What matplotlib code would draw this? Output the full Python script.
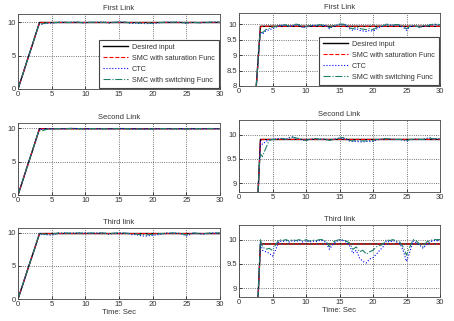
import matplotlib
matplotlib.use("Agg")
import matplotlib.pyplot as plt

plt.rcParams["font.family"] = ["Liberation Sans", "DejaVu Sans"]

# time grid for the response curves
t = [0, 3.0, 3.2, 3.5, 4.0, 4.5, 5.0, 5.5, 6.0, 6.5, 7.0, 7.5, 8.0, 8.5, 9.0, 9.5,
     10.0, 10.5, 11.0, 11.5, 12.0, 12.5, 13.0, 13.5, 14.0, 14.5, 15.0, 15.5, 16.0,
     16.5, 17.0, 17.5, 18.0, 18.5, 19.0, 19.5, 20.0, 20.5, 21.0, 21.5, 22.0, 22.5,
     23.0, 23.5, 24.0, 24.5, 25.0, 25.5, 26.0, 26.5, 27.0, 27.5, 28.0, 28.5, 29.0,
     29.5, 30.0]

t_ref = [0, 3.2, 30]
t_sat = [0, 3.2, 3.5, 30]

titles = ["First Link", "Second Link", "Third link"]
labels = ["Desired input", "SMC with saturation Func", "CTC", "SMC with switching Func"]

# first link
des1 = [0, 9.93, 9.93]
sat1 = [0, 9.9, 9.93, 9.93]
ctc1 = [0, 9.3, 9.75, 9.68, 9.78, 9.82, 9.85, 9.9, 9.95, 9.96, 9.97, 9.92, 9.95, 9.98,
        9.96, 9.88, 9.9, 9.94, 9.95, 9.95, 9.97, 9.96, 9.95, 9.85, 9.93, 9.96, 9.99,
        9.99, 9.97, 9.85, 9.8, 9.86, 9.8, 9.78, 9.76, 9.8, 9.77, 9.84, 9.9, 9.93, 9.99,
        9.97, 9.96, 9.98, 9.96, 9.9, 9.8, 9.92, 9.94, 9.92, 9.88, 9.95, 9.93, 9.97,
        9.99, 9.99, 9.97]
sw1 = [0, 9.3, 9.8, 9.72, 9.82, 9.86, 9.9, 9.92, 9.96, 9.97, 9.98, 9.93, 9.96, 10.0,
       9.98, 9.9, 9.92, 9.95, 9.96, 9.96, 9.98, 9.97, 9.96, 9.88, 9.95, 9.97, 10.0,
       10.0, 9.98, 9.88, 9.85, 9.9, 9.86, 9.84, 9.82, 9.86, 9.82, 9.88, 9.93, 9.94,
       10.0, 9.98, 9.97, 9.99, 9.97, 9.92, 9.85, 9.93, 9.95, 9.93, 9.9, 9.96, 9.94,
       9.98, 10.0, 10.0, 9.98]

# second link
des2 = [0, 9.9, 9.9]
sat2 = [0, 9.88, 9.9, 9.9]
ctc2 = [0, 9.3, 9.85, 9.8, 9.86, 9.89, 9.9, 9.91, 9.92, 9.92, 9.9, 9.94, 9.95, 9.93,
        9.91, 9.89, 9.88, 9.9, 9.91, 9.92, 9.9, 9.91, 9.9, 9.88, 9.9, 9.91, 9.93, 9.92,
        9.9, 9.87, 9.86, 9.86, 9.85, 9.85, 9.86, 9.86, 9.86, 9.89, 9.9, 9.91, 9.92,
        9.91, 9.9, 9.9, 9.9, 9.89, 9.86, 9.9, 9.9, 9.91, 9.9, 9.9, 9.92, 9.93, 9.91,
        9.92, 9.91]
sw2 = [0, 9.3, 9.6, 9.55, 9.72, 9.88, 9.9, 9.9, 9.91, 9.92, 9.9, 9.93, 9.95, 9.93,
       9.92, 9.89, 9.88, 9.9, 9.91, 9.92, 9.9, 9.91, 9.9, 9.88, 9.9, 9.91, 9.93, 9.94,
       9.92, 9.88, 9.87, 9.88, 9.87, 9.87, 9.87, 9.88, 9.87, 9.9, 9.9, 9.91, 9.92,
       9.91, 9.9, 9.9, 9.9, 9.89, 9.87, 9.9, 9.9, 9.91, 9.9, 9.9, 9.92, 9.93, 9.91,
       9.92, 9.91]

# third link
des3 = [0, 9.91, 9.91]
sat3 = [0, 9.9, 9.91, 9.91]
ctc3 = [0, 9.3, 9.95, 9.78, 9.75, 9.72, 9.66, 9.8, 9.97, 9.96, 9.98, 9.95, 9.98, 9.96,
        9.99, 9.95, 9.98, 9.95, 9.97, 9.96, 9.98, 9.98, 9.94, 9.8, 9.9, 9.96, 9.99,
        9.98, 9.95, 9.88, 9.72, 9.78, 9.62, 9.55, 9.52, 9.6, 9.63, 9.7, 9.78, 9.85,
        9.97, 9.95, 9.98, 9.95, 9.92, 9.78, 9.55, 9.75, 9.97, 9.93, 9.88, 9.82, 9.9,
        9.95, 9.98, 9.98, 9.97]
sw3 = [0, 9.3, 10.0, 9.85, 9.8, 9.82, 9.78, 9.9, 10.0, 9.98, 10.0, 9.97, 10.0, 9.98,
       10.0, 9.97, 10.0, 9.97, 9.99, 9.98, 10.0, 10.0, 9.96, 9.85, 9.95, 9.98, 10.0,
       10.0, 9.97, 9.93, 9.8, 9.85, 9.75, 9.78, 9.7, 9.75, 9.78, 9.85, 9.88, 9.9, 10.0,
       9.98, 10.0, 9.97, 9.95, 9.85, 9.68, 9.85, 10.0, 9.97, 9.9, 9.85, 9.95, 9.98,
       10.0, 10.0, 10.0]

rows = [(des1, sat1, ctc1, sw1), (des2, sat2, ctc2, sw2), (des3, sat3, ctc3, sw3)]

left_ylim = [(0, 11.2), (0, 10.75), (0, 10.75)]
right_ylim = [(8, 10.36), (8.82, 10.3), (8.82, 10.3)]
right_yticks = [[8, 8.5, 9, 9.5, 10], [9, 9.5, 10], [9, 9.5, 10]]

W, H = 454, 321
fig = plt.figure(figsize=(W / 100, H / 100), dpi=100)

# axes boxes in pixels: (left, top, right, bottom)
left_boxes = [(18, 14, 220, 89), (18, 123, 220, 195), (18, 228, 220, 299)]
right_boxes = [(239, 13, 440, 86), (239, 120, 440, 192), (239, 225, 440, 297)]

fs = 5.5
txt = "#333333"


def make_ax(box):
    l, tp, r, b = box
    return fig.add_axes([l / W, 1 - b / H, (r - l) / W, (b - tp) / H])


def style(ax):
    ax.set_xlim(0, 30)
    ax.set_xticks([0, 5, 10, 15, 20, 25, 30])
    ax.tick_params(direction="in", length=2, width=0.5, labelsize=fs, pad=1.5,
                   labelcolor=txt)
    ax.grid(True, color="#444444", linestyle=":", linewidth=0.6)
    for s in ax.spines.values():
        s.set_linewidth(0.6)
        s.set_color("#444444")


for i in range(3):
    des, sat, ctc, sw = rows[i]
    for box, yl, col in [(left_boxes[i], left_ylim[i], 0), (right_boxes[i], right_ylim[i], 1)]:
        ax = make_ax(box)
        ax.plot(t_ref, des, color="k", linestyle="-", linewidth=1.0, label=labels[0])
        ax.plot(t_sat, sat, color="r", linestyle="--", linewidth=0.8, label=labels[1])
        ax.plot(t, ctc, color="b", linestyle=":", linewidth=0.8, label=labels[2])
        ax.plot(t, sw, color="#1f806a", linestyle="-.", linewidth=0.8, label=labels[3])
        style(ax)
        ax.set_ylim(*yl)
        if col == 0:
            ax.set_yticks([0, 5, 10])
        else:
            ax.set_yticks(right_yticks[i])
            ax.set_yticklabels([f"{v:g}" for v in right_yticks[i]])
        ax.set_title(titles[i], fontsize=fs, pad=3, color=txt)
        if i == 2:
            ax.set_xlabel("Time: Sec", fontsize=fs, labelpad=1, color=txt)
        if i == 0:
            leg = ax.legend(loc="lower right", fontsize=5.2, frameon=True, fancybox=False,
                            borderaxespad=0.15, handlelength=3.4, labelspacing=0.55,
                            borderpad=0.55, handletextpad=0.6, framealpha=1)
            leg.get_frame().set_edgecolor("#444444")
            leg.get_frame().set_linewidth(0.8)
            for tx in leg.get_texts():
                tx.set_color(txt)

fig.savefig("out.png", dpi=100)
